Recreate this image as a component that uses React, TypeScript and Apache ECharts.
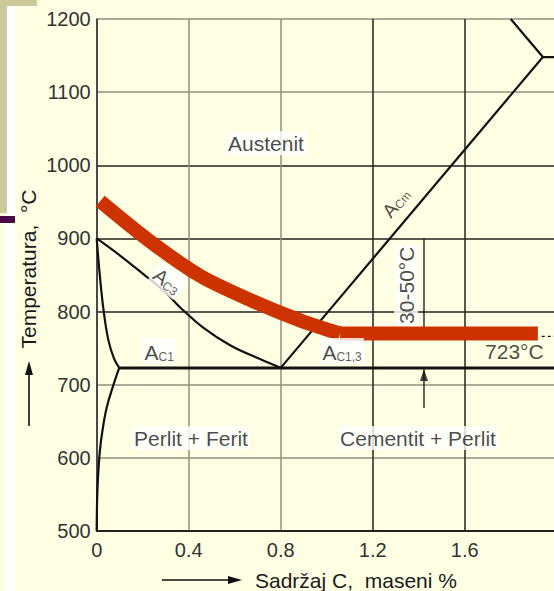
import React, { useEffect, useRef } from "react";
import * as echarts from "echarts";

// ---- data ----
const xTicks = [0, 0.4, 0.8, 1.2, 1.6, 2.0];
const yTicks = [500, 600, 700, 800, 900, 1000, 1100, 1200];

// A3 line (G -> S)
const a3Line: [number, number][] = [
  [0, 900], [0.1, 877], [0.2, 852], [0.3, 826], [0.362, 806],
  [0.463, 778], [0.58, 754], [0.71, 735], [0.8, 723],
];
// G -> P (ferrite boundary)
const gpLine: [number, number][] = [
  [0, 900], [0.005, 880], [0.014, 848], [0.029, 804], [0.05, 762],
  [0.075, 736], [0.098, 723],
];
// P -> Q (solubility line)
const pqLine: [number, number][] = [
  [0.098, 723], [0.072, 699], [0.043, 668], [0.024, 635], [0.014, 610],
  [0.006, 575], [0.002, 545], [0, 500],
];
// Acm line (S -> E)
const acmLine: [number, number][] = [[0.8, 723], [1.94, 1148]];
// lines meeting in E
const eLines: [number, number][] = [[1.8, 1200], [1.94, 1148], [2.0, 1148]];
// eutectoid line P-S-K
const eutectoidLine: [number, number][] = [[0.098, 723], [2.0, 723]];
// hardening temperature band (red)
const hardeningCurve: [number, number][] = [
  [0.015, 951], [0.232, 896], [0.449, 849], [0.667, 816], [0.884, 788], [1.058, 770],
];
const hardeningFlat: [number, number][] = [[1.058, 770], [1.918, 770]];
// dimension (30-50 °C)
const dimUpper: [number, number][] = [[1.423, 900], [1.423, 770]];
const dimLower: [number, number][] = [[1.423, 668], [1.423, 721]];
const dimArrowTip: [number, number] = [1.423, 723];
const dotted723: [number, number][] = [[1.935, 766], [2.0, 766]];

// annotation texts
const regionNames = ["Austenit", "Perlit + Ferit", "Cementit + Perlit"];
const regionAnchors: [number, number][] = [[0.736, 1030], [0.41, 627], [1.397, 627]];

const FONT = "'Liberation Sans', Arial, Helvetica, sans-serif";
const BG = "#FFFFE4";
const RED = "#CC3300";
const INK = "#111";

export default function App() {
  const ref = useRef<HTMLDivElement>(null);

  useEffect(() => {
    document.body.style.margin = "0";
    if (!ref.current) return;
    const chart = echarts.init(ref.current, null, { renderer: "svg" });

    const yGridColors = yTicks.map((t) => (t === 600 || t === 700 || t === 1100 || t === 1200 ? "#8f8f80" : "#222"));
    const xGridColors = xTicks.map((t) => (t === 0.4 || t === 0.8 ? "#8f8f80" : "#222"));

    const lineSeries = (data: [number, number][], opts: any = {}) => ({
      type: "line",
      data,
      symbol: "none",
      silent: true,
      emphasis: { disabled: true },
      lineStyle: { color: INK, width: 2.2, cap: "butt", ...(opts.lineStyle || {}) },
      smooth: opts.smooth ?? false,
      z: opts.z ?? 3,
    });

    const plainLabel = (text: string) => ({
      formatter: text,
      fontSize: 21,
      fontFamily: FONT,
      color: "#1a1a1a",
      backgroundColor: "#ffffff",
      padding: [2, 2, 1, 2],
    });

    const subLabel = (main: string, sub: string, rotate: number, mainSize: number, bg: string) => ({
      formatter: `{a|${main}}{s|${sub}}`,
      rotate,
      backgroundColor: bg,
      padding: [1, 2, 1, 2],
      rich: {
        a: { fontSize: mainSize, lineHeight: mainSize + 3, fontFamily: FONT, color: "#1a1a1a", verticalAlign: "bottom" },
        s: { fontSize: 12, lineHeight: 12, fontFamily: FONT, color: "#333", verticalAlign: "bottom" },
      },
    });

    const labelItems: any[] = [
      ...regionNames.map((n, i) => ({ value: regionAnchors[i], label: plainLabel(n) })),
      { value: [0.272, 746], label: subLabel("A", "C1", 0, 21, "#ffffff") },
      { value: [1.067, 746], label: subLabel("A", "C1,3", 0, 21, "#ffffff") },
      { value: [0.31, 843], label: subLabel("A", "C3", -38, 20, "#ffffff") },
      { value: [1.297, 950], label: subLabel("A", "Cm", 50, 19, "transparent") },
      { value: [1.345, 836], label: { ...plainLabel("30-50°C"), rotate: 90 } },
      { value: [1.816, 746], label: { ...plainLabel("723°C"), backgroundColor: "transparent" } },
    ];

    chart.setOption({
      animation: false,
      backgroundColor: BG,
      textStyle: { fontFamily: FONT },
      grid: { left: 96.7, right: -2.7, top: 19, bottom: 60, containLabel: false, outerBoundsMode: "none" },
      xAxis: {
        type: "value",
        min: 0,
        max: 2,
        interval: 0.4,
        axisLine: { show: true, onZero: false, lineStyle: { color: INK, width: 1.5 } },
        axisTick: { show: false },
        axisLabel: {
          margin: 9,
          fontSize: 20,
          color: "#333",
          fontFamily: FONT,
          formatter: (v: number) => (v > 1.99 ? "" : v === 0 ? "0" : v.toFixed(1)),
        },
        splitLine: { show: true, lineStyle: { color: xGridColors, width: 1.5 } },
      },
      yAxis: {
        type: "value",
        min: 500,
        max: 1200,
        interval: 100,
        axisLine: { show: true, onZero: false, lineStyle: { color: "#444", width: 1.5 } },
        axisTick: { show: false },
        axisLabel: { margin: 6, fontSize: 20, color: "#333", fontFamily: FONT, formatter: (v: number) => String(v) },
        splitLine: { show: true, lineStyle: { color: yGridColors, width: 1.5 } },
      },
      series: [
        lineSeries(a3Line, { smooth: 0.4 }),
        lineSeries(gpLine, { smooth: 0.4 }),
        lineSeries(pqLine, { smooth: 0.4 }),
        lineSeries(acmLine),
        lineSeries(eLines),
        lineSeries(eutectoidLine, { lineStyle: { width: 3 } }),
        lineSeries(dotted723, { lineStyle: { width: 1.2, type: [3, 3] } }),
        lineSeries(dimUpper, { lineStyle: { width: 1.3 } }),
        lineSeries(dimLower, { lineStyle: { width: 1.3 } }),
        {
          type: "scatter",
          silent: true,
          symbol: "triangle",
          symbolSize: [8, 12],
          symbolOffset: [0, 7],
          itemStyle: { color: INK },
          emphasis: { disabled: true },
          z: 4,
          data: [dimArrowTip],
        },
        lineSeries(hardeningCurve, { smooth: 0.3, z: 5, lineStyle: { color: RED, width: 14 } }),
        lineSeries(hardeningFlat, { z: 5, lineStyle: { color: RED, width: 14 } }),
        {
          type: "scatter",
          silent: true,
          symbolSize: 1,
          itemStyle: { color: "transparent" },
          emphasis: { disabled: true },
          z: 8,
          label: { show: true, position: "inside" },
          data: labelItems,
        },
      ],
      graphic: [
        // slide decoration on the left
        { type: "rect", left: 0, top: 0, shape: { width: 7, height: 213 }, style: { fill: "#CCCA9A" }, silent: true },
        { type: "rect", left: 0, top: 0, shape: { width: 37, height: 6 }, style: { fill: "#CCCA9A" }, silent: true },
        { type: "rect", left: 7, top: 6, shape: { width: 8, height: 585 }, style: { fill: "#ffffff" }, silent: true },
        { type: "rect", left: 0, top: 216, shape: { width: 15, height: 7 }, style: { fill: "#4A0A45" }, silent: true },
        // axis names
        {
          type: "text",
          x: 28,
          y: 269,
          rotation: Math.PI / 2,
          style: {
            text: "Temperatura,  °C",
            font: `21px ${FONT}`,
            fill: "#1a1a1a",
            textAlign: "center",
            textVerticalAlign: "middle",
          },
          silent: true,
        },
        { type: "line", shape: { x1: 29, y1: 426, x2: 29, y2: 372 }, style: { stroke: INK, lineWidth: 1.6 }, silent: true },
        { type: "polygon", shape: { points: [[29, 361], [25, 375], [33, 375]] }, style: { fill: INK }, silent: true },
        {
          type: "text",
          x: 255,
          y: 580,
          style: {
            text: "Sadržaj C,  maseni %",
            font: `21px ${FONT}`,
            fill: "#1a1a1a",
            textAlign: "left",
            textVerticalAlign: "middle",
          },
          silent: true,
        },
        { type: "line", shape: { x1: 162, y1: 580, x2: 230, y2: 580 }, style: { stroke: INK, lineWidth: 1.6 }, silent: true },
        { type: "polygon", shape: { points: [[242, 580], [228, 576], [228, 584]] }, style: { fill: INK }, silent: true },
      ],
    });

    return () => chart.dispose();
  }, []);

  return <div ref={ref} style={{ position: "fixed", left: 0, top: 0, width: 554, height: 591 }} />;
}
